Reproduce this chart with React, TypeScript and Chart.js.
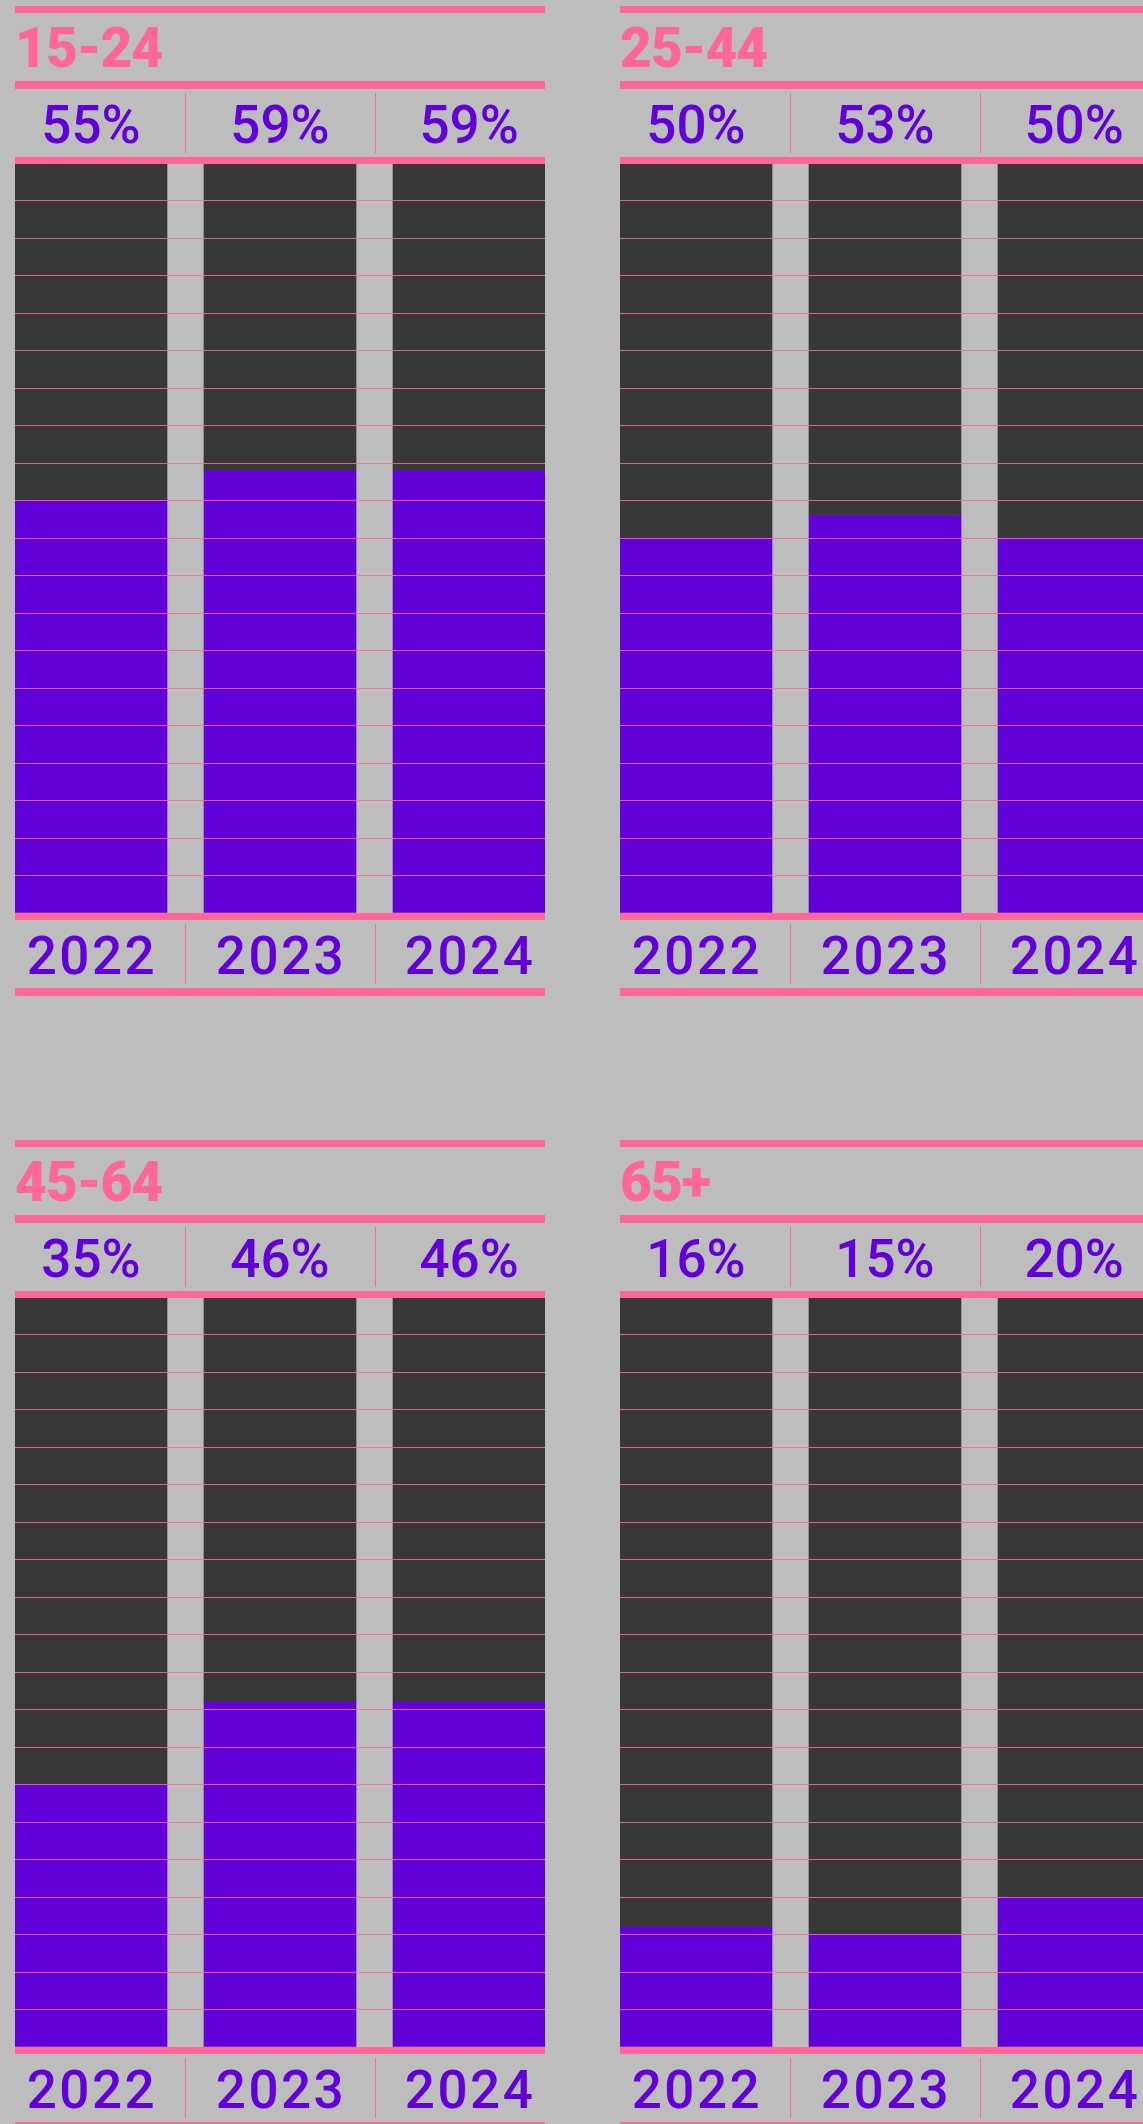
import React, { useEffect, useRef } from 'react';
import { Chart, registerables } from 'chart.js';

Chart.register(...registerables);

// ---- data ----
const years = ['2022', '2023', '2024'];
const ageGroups = ['15-24', '25-44', '45-64', '65+'];
const share1524 = [55, 59, 59];
const share2544 = [50, 53, 50];
const share4564 = [35, 46, 46];
const share65plus = [16, 15, 20];
const seriesByGroup = [share1524, share2544, share4564, share65plus];
const yMax = 100;
const gridStep = 5;

// ---- style ----
const PINK = '#ff6699';
const PURPLE = '#6200d9';
const DARK = '#383838';
const BG = '#bdbdbd';

const W = 530;
const H = 994;
const PLOT_TOP = 157;
const PLOT_BOTTOM = 907;
const LINE = 7;

type PanelProps = { title: string; values: number[]; left: number; top: number };

function Panel({ title, values, left, top }: PanelProps) {
  const ref = useRef<HTMLCanvasElement | null>(null);

  useEffect(() => {
    if (!ref.current) return;
    const overlay = {
      id: 'overlay',
      afterDraw(chart: any) {
        const ctx = chart.ctx as CanvasRenderingContext2D;
        const xs = chart.scales.x;
        const area = chart.chartArea;
        ctx.save();
        ctx.fillStyle = PINK;
        // horizontal rules
        ctx.fillRect(0, 0, W, LINE);
        ctx.fillRect(0, 75, W, LINE + 1);
        ctx.fillRect(0, area.top - 6, W, LINE);
        ctx.fillRect(0, area.bottom, W, LINE);
        ctx.fillRect(0, area.bottom + 75, W, LINE + 1);

        // separators
        for (let i = 0; i < years.length - 1; i++) {
          const sx = Math.round(xs.getPixelForValue(i + 0.5));
          ctx.fillRect(sx, 87, 1, 60);
          ctx.fillRect(sx, area.bottom + 11, 1, 60);
        }

        // title
        ctx.font = '900 55px Roboto';
        (ctx as any).letterSpacing = '-1px';
        ctx.textAlign = 'left';
        ctx.textBaseline = 'alphabetic';
        ctx.fillText(title, 0, 61);

        // values & years
        ctx.fillStyle = PURPLE;
        ctx.font = '500 53px Roboto';
        ctx.textAlign = 'center';
        values.forEach((v, i) => {
          const cx = xs.getPixelForValue(i);
          (ctx as any).letterSpacing = '0px';
          ctx.fillText(`${v}%`, cx, 137);
          (ctx as any).letterSpacing = '2.5px';
          ctx.fillText(years[i], cx + 1, area.bottom + 61);
        });
        ctx.restore();
      },
    };

    const chart = new Chart(ref.current, {
      type: 'bar',
      data: {
        datasets: [
          {
            label: 'share',
            data: values.map((v, i) => ({ x: i, y: v })),
            backgroundColor: PURPLE,
            borderWidth: 0,
            barThickness: 152,
          },
          {
            label: 'rest',
            data: values.map((v, i) => ({ x: i, y: yMax - v })),
            backgroundColor: DARK,
            borderWidth: 0,
            barThickness: 152,
          },
        ],
      },
      options: {
        responsive: false,
        maintainAspectRatio: false,
        animation: false,
        devicePixelRatio: 1,
        layout: { padding: { top: PLOT_TOP, bottom: H - PLOT_BOTTOM, left: 0, right: 0 } },
        plugins: { legend: { display: false }, tooltip: { enabled: false }, title: { display: false } },
        scales: {
          x: {
            type: 'linear',
            stacked: true,
            offset: false,
            min: -0.402,
            max: years.length - 1 + 0.402,
            display: false,
            ticks: { stepSize: 1, includeBounds: false },
          },
          y: {
            stacked: true,
            min: 0,
            max: yMax,
            display: true,
            ticks: { display: false, stepSize: gridStep },
            border: { display: false },
            grid: {
              z: 1,
              drawTicks: false,
              lineWidth: 1,
              color: (c: any) =>
                c.tick && (c.tick.value === 0 || c.tick.value === yMax) ? 'rgba(0,0,0,0)' : 'rgba(255,102,153,0.85)',
            },
          },
        },
      },
      plugins: [overlay],
    } as any);
    return () => chart.destroy();
  }, [title, values]);

  return (
    <canvas
      ref={ref}
      width={W}
      height={H}
      style={{ position: 'absolute', left, top, width: W, height: H, display: 'block' }}
    />
  );
}

const positions = [
  { left: 15, top: 6 },
  { left: 620, top: 6 },
  { left: 15, top: 1140 },
  { left: 620, top: 1140 },
];

export default function App() {
  return (
    <div
      style={{
        position: 'fixed',
        left: 0,
        top: 0,
        width: 1143,
        height: 2124,
        overflow: 'hidden',
        background: BG,
      }}
    >
      {ageGroups.map((g, i) => (
        <Panel key={g} title={g} values={seriesByGroup[i]} left={positions[i].left} top={positions[i].top} />
      ))}
    </div>
  );
}
